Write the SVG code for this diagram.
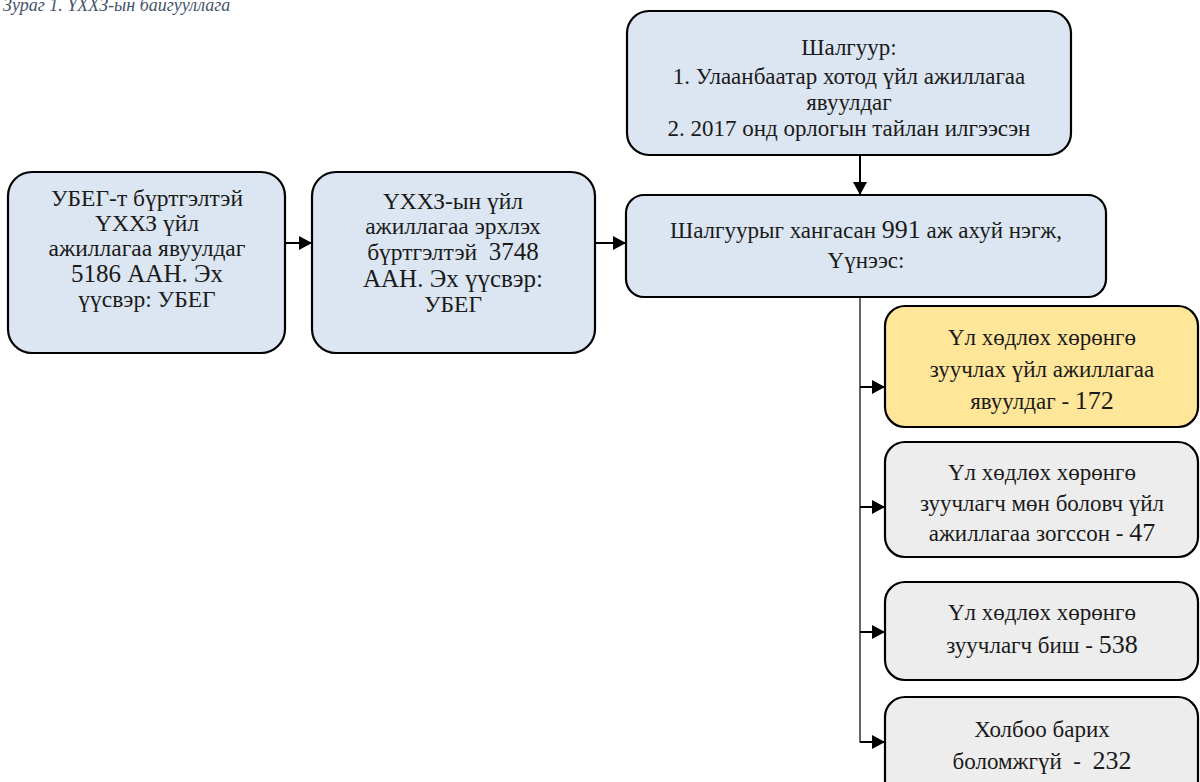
<svg xmlns="http://www.w3.org/2000/svg" width="1200" height="782" viewBox="0 0 1200 782">
<defs>
<style>
.bx{stroke:#000;stroke-width:2.2}
.blue{fill:#dce6f2}
.yel{fill:#ffe699}
.gry{fill:#ededed}
.t{font-family:"Liberation Serif","DejaVu Serif","Times New Roman",serif;font-size:23px;fill:#1a1a1a;text-anchor:middle}
.n{font-size:26px}
.n2{font-size:25px}
.ttl{font-family:"Liberation Serif","DejaVu Serif","Times New Roman",serif;font-size:18px;font-style:italic;fill:#44546a}
.ln{stroke:#000;stroke-width:2;fill:none}
.thin{stroke:#000;stroke-width:1.2;fill:none}
</style>
<marker id="ah" markerWidth="14" markerHeight="14" refX="12" refY="7" orient="auto" markerUnits="userSpaceOnUse">
<path d="M0,0 L13,7 L0,14 Z" fill="#000"/>
</marker>
</defs>
<rect width="1200" height="782" fill="#fff"/>
<text class="ttl" x="3" y="11">Зураг 1. ҮХХЗ-ын байгууллага</text>

<g id="connectors">
<line class="ln" x1="285" y1="243" x2="311" y2="243" marker-end="url(#ah)"/>
<line class="ln" x1="595" y1="243" x2="625" y2="243" marker-end="url(#ah)"/>
<line class="ln" x1="860" y1="155" x2="860" y2="194" marker-end="url(#ah)"/>
<path class="thin" d="M860,297 V742 H866"/>
<line class="ln" x1="860" y1="387" x2="884" y2="387" marker-end="url(#ah)"/>
<line class="ln" x1="860" y1="507" x2="884" y2="507" marker-end="url(#ah)"/>
<line class="ln" x1="860" y1="632" x2="884" y2="632" marker-end="url(#ah)"/>
<line class="ln" x1="860" y1="742" x2="884" y2="742" marker-end="url(#ah)"/>
</g>

<g id="node-top">
<rect class="bx blue" x="627" y="11" width="444" height="144" rx="22"/>
<text class="t"><tspan x="849" y="55">Шалгуур:</tspan><tspan x="849" y="84">1. Улаанбаатар хотод үйл ажиллагаа</tspan><tspan x="849" y="110">явуулдаг</tspan><tspan x="849" y="136">2. 2017 онд орлогын тайлан илгээсэн</tspan></text>
</g>

<g id="node-ubeg">
<rect class="bx blue" x="8" y="172" width="277" height="181" rx="24"/>
<text class="t" style="font-size:23.5px"><tspan x="147" y="206">УБЕГ-т бүртгэлтэй</tspan><tspan x="147" y="231">ҮХХЗ үйл</tspan><tspan x="147" y="256">ажиллагаа явуулдаг</tspan><tspan x="147" y="282" class="n2">5186 ААН. Эх</tspan><tspan x="147" y="307">үүсвэр: УБЕГ</tspan></text>
</g>

<g id="node-registered">
<rect class="bx blue" x="312" y="172" width="283" height="181" rx="24"/>
<text class="t" style="font-size:23.5px"><tspan x="453" y="209">ҮХХЗ-ын үйл</tspan><tspan x="453" y="234">ажиллагаа эрхлэх</tspan><tspan x="453" y="260">бүртгэлтэй&#160; <tspan class="n2">3748</tspan></tspan><tspan x="453" y="287" class="n2">ААН. Эх үүсвэр:</tspan><tspan x="453" y="312">УБЕГ</tspan></text>
</g>

<g id="node-criteria">
<rect class="bx blue" x="626" y="195" width="480" height="102" rx="18"/>
<text class="t"><tspan x="866" y="238">Шалгуурыг хангасан <tspan class="n">991</tspan> аж ахуй нэгж,</tspan><tspan x="866" y="268">Үүнээс:</tspan></text>
</g>

<g id="node-agents">
<rect class="bx yel" x="885" y="306" width="313" height="121" rx="20"/>
<text class="t"><tspan x="1042" y="345">Үл хөдлөх хөрөнгө</tspan><tspan x="1042" y="377">зуучлах үйл ажиллагаа</tspan><tspan x="1042" y="409">явуулдаг - <tspan class="n">172</tspan></tspan></text>
</g>

<g id="node-stopped">
<rect class="bx gry" x="885" y="442" width="313" height="115" rx="20"/>
<text class="t"><tspan x="1042" y="480">Үл хөдлөх хөрөнгө</tspan><tspan x="1042" y="511">зуучлагч мөн боловч үйл</tspan><tspan x="1042" y="541">ажиллагаа зогссон - <tspan class="n">47</tspan></tspan></text>
</g>

<g id="node-notagent">
<rect class="bx gry" x="885" y="582" width="313" height="98" rx="20"/>
<text class="t"><tspan x="1042" y="620">Үл хөдлөх хөрөнгө</tspan><tspan x="1042" y="653">зуучлагч биш - <tspan class="n">538</tspan></tspan></text>
</g>

<g id="node-nocontact">
<rect class="bx gry" x="885" y="697" width="313" height="110" rx="20"/>
<text class="t"><tspan x="1042" y="737">Холбоо барих</tspan><tspan x="1042" y="769">боломжгүй&#160; -&#160; <tspan class="n">232</tspan></tspan></text>
</g>
</svg>
